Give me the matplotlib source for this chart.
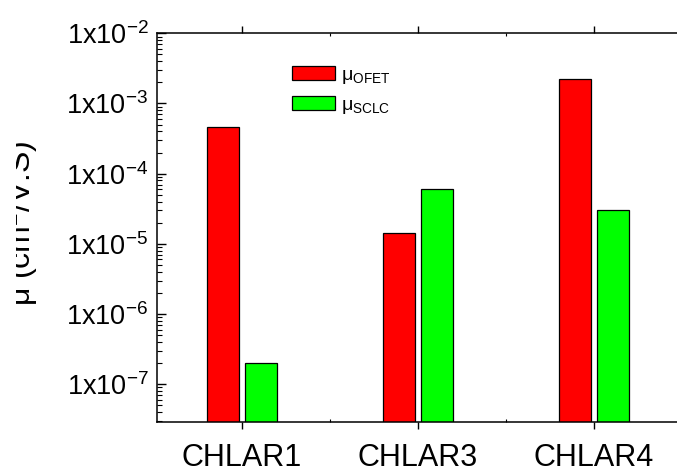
import matplotlib
matplotlib.use('Agg')
import matplotlib.pyplot as plt
import numpy as np
from matplotlib.patches import Patch
from matplotlib.transforms import Bbox
from matplotlib.ticker import FixedLocator, FixedFormatter, LogLocator, NullFormatter

plt.rcParams['font.family'] = ['Liberation Sans', 'DejaVu Sans']
plt.rcParams['mathtext.fontset'] = 'custom'
plt.rcParams['mathtext.rm'] = 'Liberation Sans'
plt.rcParams['mathtext.it'] = 'Liberation Sans:italic'
plt.rcParams['mathtext.bf'] = 'Liberation Sans:bold'

# data
samples = ['CHLAR1', 'CHLAR3', 'CHLAR4']
mu_ofet = [4.6e-4, 1.42e-5, 2.25e-3]
mu_sclc = [2.0e-7, 6.0e-5, 3.0e-5]
ytick_vals = [1e-7, 1e-6, 1e-5, 1e-4, 1e-3, 1e-2]
ytick_labels = [r'1x10$^{-7}$', r'1x10$^{-6}$', r'1x10$^{-5}$',
                r'1x10$^{-4}$', r'1x10$^{-3}$', r'1x10$^{-2}$']
legend_labels = [r'μ$_{\mathrm{OFET}}$', r'μ$_{\mathrm{SCLC}}$']

fig = plt.figure(figsize=(6.77, 4.73), dpi=100)
# axes runs past the right edge of the figure like in the original
ax = fig.add_axes([0.2315, 0.1085, 0.776, 0.8211])

x = np.arange(len(samples))
w = 0.18
ax.bar(x - 0.108, mu_ofet, width=w, color='#ff0000', edgecolor='black', linewidth=0.9)
ax.bar(x + 0.108, mu_sclc, width=w, color='#00ff00', edgecolor='black', linewidth=0.9)

ax.set_yscale('log')
ax.set_ylim(10 ** -7.533, 1e-2)
ax.set_xlim(-0.484, 2.5)

ax.yaxis.set_major_locator(FixedLocator(ytick_vals))
ax.yaxis.set_major_formatter(FixedFormatter(ytick_labels))
ax.yaxis.set_minor_locator(LogLocator(base=10, subs=np.arange(2, 10), numticks=20))
ax.yaxis.set_minor_formatter(NullFormatter())

ax.set_xticks(x)
ax.set_xticklabels(samples)
ax.set_xticks([0.5, 1.5], minor=True)

ax.tick_params(axis='y', which='major', direction='in', length=6.5, width=1, labelsize=19.5, pad=6)
ax.tick_params(axis='y', which='minor', direction='in', length=3.5, width=0.8)
ax.tick_params(axis='x', which='major', direction='out', length=5, width=1, labelsize=22, pad=10.5)
ax.tick_params(axis='x', which='minor', direction='in', length=2, width=0.8, top=True)
ax.tick_params(axis='x', which='major', top=True)

for s in ax.spines.values():
    s.set_linewidth(1.1)

# y label, cut off on its left side as in the source image
ylab = fig.text(31 / 677, 0.527, r'μ (cm$^2$/V.S)', rotation=90, rotation_mode='anchor',
                fontsize=23, ha='center', va='baseline')
ylab.set_clip_box(Bbox([[16, 0], [677, 473]]))
ylab.set_clip_on(True)

handles = [Patch(facecolor='#ff0000', edgecolor='black', linewidth=0.9),
           Patch(facecolor='#00ff00', edgecolor='black', linewidth=0.9)]
ax.legend(handles, legend_labels,
          loc='upper left', bbox_to_anchor=(292 / 677, 1 - 66 / 473),
          bbox_transform=fig.transFigure, frameon=False, fontsize=14,
          handlelength=2.2, handleheight=0.7, handletextpad=0.3,
          labelspacing=0.55, borderpad=0, borderaxespad=0)

fig.savefig('out.png', dpi=100)
